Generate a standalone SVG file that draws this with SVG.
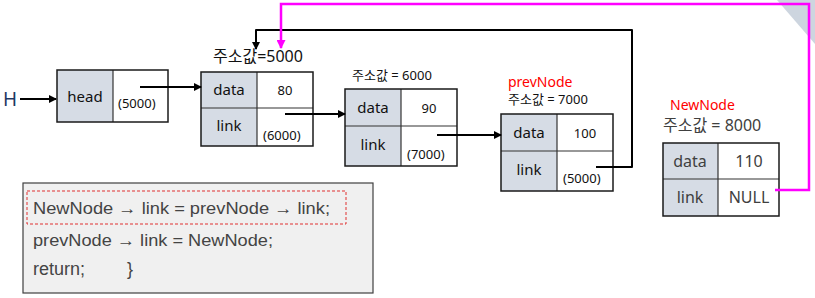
<svg xmlns="http://www.w3.org/2000/svg" width="815" height="298" viewBox="0 0 815 298">
<defs>
<style>
.t{font-family:"Noto Sans","Noto Sans CJK KR",sans-serif;fill:#111;}
.c{text-anchor:middle;}
.f{font-size:15px;}
.s{font-size:13px;}
.g{fill:#d6dce5;}
.w{fill:#fff;}
.box{fill:none;stroke:#1a1a1a;stroke-width:1.5;}
.div{stroke:#333;stroke-width:1.2;}
.ln{fill:none;stroke:#000;stroke-width:2;}
.mg{fill:none;stroke:#ff00ff;stroke-width:2.5;}
.code{font-family:"Liberation Sans","Noto Sans CJK KR",sans-serif;font-size:17px;fill:#444;}
</style>
<marker id="ab" markerWidth="8" markerHeight="8" refX="7" refY="4" orient="auto" markerUnits="userSpaceOnUse"><path d="M0,0 L8,4 L0,8 Z" fill="#000"/></marker>
<marker id="am" markerWidth="9" markerHeight="9" refX="8" refY="4.5" orient="auto" markerUnits="userSpaceOnUse"><path d="M0,0 L9,4.5 L0,9 Z" fill="#ff00ff"/></marker>
</defs>
<rect width="815" height="298" fill="#fff"/>
<polygon points="777,0 815,0 815,44" fill="#cdd5df"/>

<g id="H">
<text class="t" x="3" y="106" style="font-size:19px;fill:#1f3864">H</text>
</g>

<g id="head">
<rect class="g" x="57" y="70" width="56" height="52"/>
<rect class="w" x="113" y="70" width="55" height="52"/>
<line class="div" x1="113" y1="70" x2="113" y2="122"/>
<rect class="box" x="57" y="70" width="111" height="52"/>
<text class="t f c" x="85" y="102">head</text>
<text class="t s" x="118" y="108">(5000)</text>
</g>

<g id="node5000">
<text class="t" x="213" y="62" style="font-size:16px">주소값=5000</text>
<rect class="g" x="201" y="72" width="56" height="74"/>
<rect class="w" x="257" y="72" width="56" height="74"/>
<line class="div" x1="257" y1="72" x2="257" y2="146"/>
<line class="div" x1="201" y1="108" x2="313" y2="108"/>
<rect class="box" x="201" y="72" width="112" height="74"/>
<text class="t f c" x="229" y="95">data</text>
<text class="t s c" x="285" y="95">80</text>
<text class="t f c" x="229" y="131">link</text>
<text class="t s" x="263" y="140">(6000)</text>
</g>

<g id="node6000">
<text class="t s" x="352" y="80">주소값 = 6000</text>
<rect class="g" x="345" y="89" width="56" height="77"/>
<rect class="w" x="401" y="89" width="56" height="77"/>
<line class="div" x1="401" y1="89" x2="401" y2="166"/>
<line class="div" x1="345" y1="126" x2="457" y2="126"/>
<rect class="box" x="345" y="89" width="112" height="77"/>
<text class="t f c" x="373" y="113">data</text>
<text class="t s c" x="429" y="113">90</text>
<text class="t f c" x="373" y="150">link</text>
<text class="t s" x="407" y="159">(7000)</text>
</g>

<g id="prevNode">
<text class="t" x="508" y="87" style="font-size:14px;fill:#ff0000">prevNode</text>
<text class="t s" x="508" y="104">주소값 = 7000</text>
<rect class="g" x="501" y="114" width="56" height="77"/>
<rect class="w" x="557" y="114" width="56" height="77"/>
<line class="div" x1="557" y1="114" x2="557" y2="191"/>
<line class="div" x1="501" y1="151" x2="613" y2="151"/>
<rect class="box" x="501" y="114" width="112" height="77"/>
<text class="t f c" x="529" y="138">data</text>
<text class="t s c" x="585" y="138">100</text>
<text class="t f c" x="529" y="175">link</text>
<text class="t s" x="563" y="183">(5000)</text>
</g>

<g id="NewNode">
<text class="t" x="670" y="110" style="font-size:14px;fill:#ff0000">NewNode</text>
<text class="t" x="663" y="131" style="font-size:16px;fill:#404040">주소값 = 8000</text>
<rect class="g" x="663" y="143" width="55" height="73"/>
<rect class="w" x="718" y="143" width="61" height="73"/>
<line class="div" x1="718" y1="143" x2="718" y2="216"/>
<line class="div" x1="663" y1="179" x2="779" y2="179"/>
<rect class="box" x="663" y="143" width="116" height="73"/>
<text class="t c" x="690" y="167" style="font-size:16px;fill:#404040">data</text>
<text class="t c" x="749" y="167" style="font-size:16px;fill:#404040">110</text>
<text class="t c" x="690" y="203" style="font-size:16px;fill:#404040">link</text>
<text class="t c" x="749" y="203" style="font-size:16px;fill:#404040">NULL</text>
</g>

<g id="connectors">
<line class="ln" x1="20" y1="99" x2="56" y2="99" stroke-width="1.3" marker-end="url(#ab)"/>
<line class="ln" x1="140" y1="87" x2="201" y2="87" marker-end="url(#ab)"/>
<line class="ln" x1="285" y1="114" x2="345" y2="114" marker-end="url(#ab)"/>
<line class="ln" x1="437" y1="135" x2="501" y2="135" marker-end="url(#ab)"/>
<path class="ln" d="M596,167 L632,167 L632,30 L256,30 L256,49" stroke-linejoin="round" marker-end="url(#ab)"/>
<path class="mg" d="M775,190 L809,190 L809,4 L281,4 L281,48" marker-end="url(#am)"/>
</g>

<g id="code">
<rect x="23" y="183" width="350" height="110" fill="#f0f0f0" stroke="#404040" stroke-width="1.2"/>
<rect x="27" y="191" width="319" height="33" fill="none" stroke="#e03030" stroke-width="1" stroke-dasharray="3,2"/>
<text class="code" x="33" y="214" textLength="297" lengthAdjust="spacingAndGlyphs">NewNode → link = prevNode → link;</text>
<text class="code" x="33" y="246" textLength="240" lengthAdjust="spacingAndGlyphs">prevNode → link = NewNode;</text>
<text class="code" x="33" y="275" style="font-size:18px">return;</text>
<text class="code" x="127" y="275" style="font-size:18px">}</text>
</g>
</svg>
